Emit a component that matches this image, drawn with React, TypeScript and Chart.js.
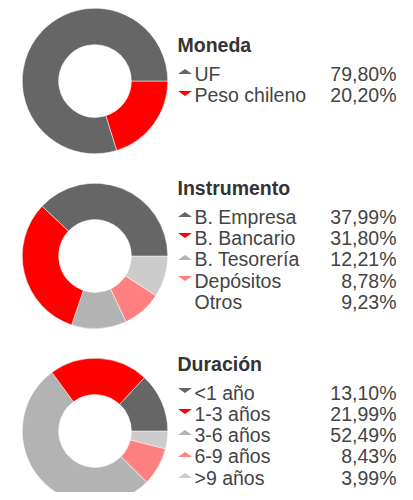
import React, { useEffect, useRef } from "react";
import { Chart, registerables } from "chart.js";

Chart.register(...registerables);

// ---- Data ----
const monedaLabels = ["UF", "Peso chileno"];
const monedaValues = [79.8, 20.2];

const instrumentoLabels = ["B. Empresa", "B. Bancario", "B. Tesorería", "Depósitos", "Otros"];
const instrumentoValues = [37.99, 31.8, 12.21, 8.78, 9.23];

const duracionLabels = ["<1 año", "1-3 años", "3-6 años", "6-9 años", ">9 años"];
const duracionValues = [13.1, 21.99, 52.49, 8.43, 3.99];

// ---- Styles ----
const DARK = "#666666";
const RED = "#ff0000";
const GRAY = "#b3b3b3";
const PINK = "#ff8080";
const LIGHT = "#cccccc";

const monedaColors = [DARK, RED];
const monedaMarkers = ["up", "down"];
const instrumentoColors = [DARK, RED, GRAY, PINK, LIGHT];
const instrumentoMarkers = ["up", "down", "up", "down", "none"];
const duracionColors = [DARK, RED, GRAY, PINK, LIGHT];
const duracionMarkers = ["down", "down", "up", "up", "up"];

const FONT = "'Liberation Sans', Arial, Helvetica, sans-serif";

type BlockProps = {
  title: string;
  labels: string[];
  values: number[];
  colors: string[];
  markers: string[];
  donutTop: number;
  legendTop: number;
};

function fmt(v: number) {
  return v.toFixed(2).replace(".", ",") + "%";
}

function Donut({ labels, values, colors, top }: { labels: string[]; values: number[]; colors: string[]; top: number }) {
  const ref = useRef<HTMLCanvasElement | null>(null);
  useEffect(() => {
    if (!ref.current) return;
    // Reference draws counter-clockwise from 3 o'clock; reverse order and go clockwise.
    const rl = [...labels].reverse();
    const rv = [...values].reverse();
    const rc = [...colors].reverse();
    const chart = new Chart(ref.current, {
      type: "doughnut",
      data: {
        labels: rl,
        datasets: [
          {
            data: rv,
            backgroundColor: rc,
            borderColor: "#ffffff",
            borderWidth: 0.5,
            hoverOffset: 0,
          },
        ],
      },
      options: {
        responsive: false,
        animation: false,
        rotation: 90,
        cutout: "50%",
        layout: { padding: 0 },
        plugins: {
          legend: { display: false },
          tooltip: { enabled: false },
          title: { display: false },
        },
      },
    });
    return () => chart.destroy();
  }, []);
  return (
    <canvas
      ref={ref}
      width={146}
      height={146}
      style={{ position: "absolute", left: 13.5, top: top - 0.5, width: 146, height: 146 }}
    />
  );
}

function Marker({ kind, color }: { kind: string; color: string }) {
  if (kind === "none") return null;
  const base: React.CSSProperties = {
    position: "absolute",
    left: 0,
    top: 5.4,
    width: 0,
    height: 0,
    borderLeft: "7px solid transparent",
    borderRight: "7px solid transparent",
  };
  if (kind === "up") base.borderBottom = `5.5px solid ${color}`;
  else base.borderTop = `5.5px solid ${color}`;
  return <span style={base} />;
}

function Block({ title, labels, values, colors, markers, donutTop, legendTop }: BlockProps) {
  return (
    <>
      <Donut labels={labels} values={values} colors={colors} top={donutTop} />
      <div
        style={{
          position: "absolute",
          left: 169.5,
          top: legendTop,
          width: 219,
          fontFamily: FONT,
          fontSize: 19.5,
        }}
      >
        <div style={{ fontWeight: "bold", color: "#333333", lineHeight: "21px", height: 21, marginBottom: 8 }}>
          {title}
        </div>
        {labels.map((l, i) => (
          <div
            key={l}
            style={{ position: "relative", height: 21.3, lineHeight: "21.3px", color: "#444444", whiteSpace: "nowrap" }}
          >
            <Marker kind={markers[i]} color={colors[i]} />
            <span style={{ position: "absolute", left: 17 }}>{l}</span>
            <span style={{ position: "absolute", right: 0 }}>{fmt(values[i])}</span>
          </div>
        ))}
      </div>
    </>
  );
}

export default function App() {
  return (
    <div style={{ position: "relative", width: 397, height: 484 }}>
      <Block
        title="Moneda"
        labels={monedaLabels}
        values={monedaValues}
        colors={monedaColors}
        markers={monedaMarkers}
        donutTop={0}
        legendTop={27.1}
      />
      <Block
        title="Instrumento"
        labels={instrumentoLabels}
        values={instrumentoValues}
        colors={instrumentoColors}
        markers={instrumentoMarkers}
        donutTop={175}
        legendTop={169.8}
      />
      <Block
        title="Duración"
        labels={duracionLabels}
        values={duracionValues}
        colors={duracionColors}
        markers={duracionMarkers}
        donutTop={350}
        legendTop={345.5}
      />
    </div>
  );
}
